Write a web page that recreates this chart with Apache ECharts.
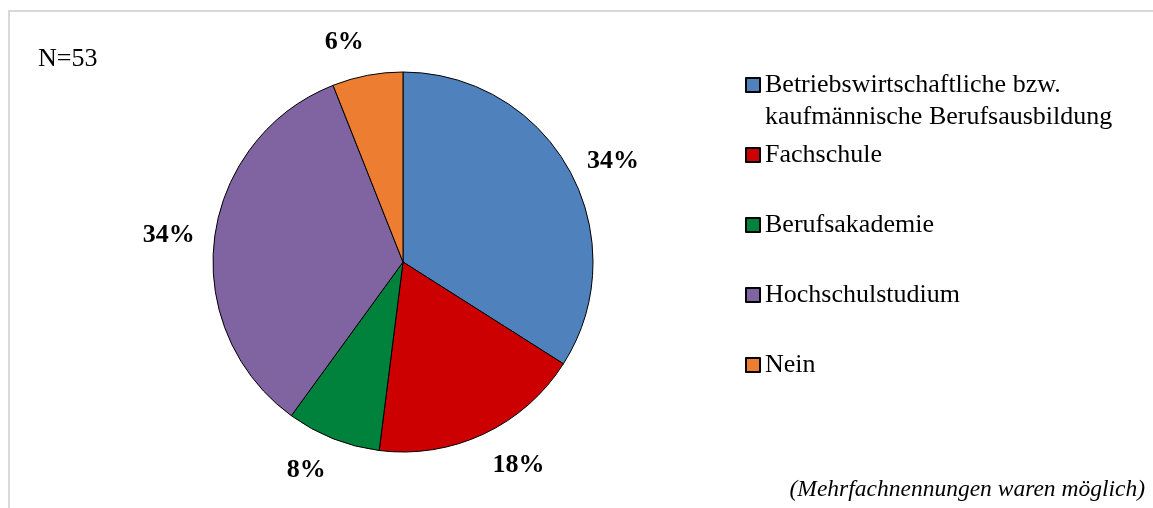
<!DOCTYPE html>
<html>
<head>
<meta charset="utf-8">
<script src="https://cdn.jsdelivr.net/npm/echarts@6/dist/echarts.min.js"></script>
<style>
  html, body { margin: 0; padding: 0; background: #fff; }
  #chart { width: 1153px; height: 508px; }
</style>
</head>
<body>
<div id="chart"></div>
<script>
// Anteile in Prozent (N=53)
const categories = [
  'Betriebswirtschaftliche bzw.\nkaufmännische Berufsausbildung',
  'Fachschule',
  'Berufsakademie',
  'Hochschulstudium',
  'Nein'
];
const values = [34, 18, 8, 34, 6];
const colors = ['#4F81BD', '#CC0000', '#00823D', '#8064A2', '#ED7D31'];

const font = 'Liberation Serif';
// Mitte der Legendensymbole (y) pro Eintrag
const legendCenters = [85, 155, 225, 295, 365];

// Richtung der Segmentmitte (Start oben, im Uhrzeigersinn) -> Ausrichtung wie "außerhalb Ende"
const total = values.reduce(function (a, b) { return a + b; }, 0);
let cum = 0;
const labelDirs = values.map(function (v) {
  const mid = (cum + v / 2) / total * 2 * Math.PI;
  cum += v;
  return { dx: Math.sin(mid), dy: -Math.cos(mid) };
});

const legends = categories.map(function (name, i) {
  const twoLines = name.indexOf('\n') >= 0;
  const lh = twoLines ? 32 : 30;
  return {
    data: [name],
    orient: 'vertical',
    left: 745,
    top: twoLines ? legendCenters[i] - lh * 1.5 : legendCenters[i] - lh / 2,
    padding: 0,
    icon: 'rect',
    itemWidth: 14,
    itemHeight: 14,
    selectedMode: false,
    // leere erste Zeile, damit das Symbol auf Höhe der ersten Textzeile steht
    formatter: function (n) { return twoLines ? ' \n' + n : n; },
    textStyle: {
      fontFamily: font,
      fontSize: 26,
      color: '#000',
      lineHeight: lh
    }
  };
});

const option = {
  animation: false,
  color: colors,
  title: [
    {
      text: 'N=53',
      left: 38,
      top: 46,
      padding: 0,
      textStyle: { fontFamily: font, fontSize: 26, fontWeight: 'normal', color: '#000' }
    },
    {
      text: '(Mehrfachnennungen waren möglich)',
      right: 8,
      top: 478,
      padding: 0,
      textStyle: { fontFamily: font, fontSize: 23.5, fontStyle: 'italic', fontWeight: 'normal', color: '#000' }
    }
  ],
  legend: legends,
  graphic: [{
    type: 'rect',
    shape: { x: 9, y: 11, width: 1300, height: 700 },
    style: { fill: 'none', stroke: '#d9d9d9', lineWidth: 2 },
    silent: true
  }],
  series: [{
    type: 'pie',
    center: [403, 262],
    radius: 190,
    startAngle: 90,
    clockwise: true,
    itemStyle: { borderColor: '#000', borderWidth: 1 },
    label: {
      show: true,
      position: 'outside',
      formatter: '{c}%',
      fontFamily: font,
      fontSize: 26,
      fontWeight: 'bold',
      color: '#000',
      distanceToLabelLine: 0
    },
    labelLine: { show: false, length: 20, length2: 0 },
    labelLayout: function (params) {
      const d = labelDirs[params.dataIndex];
      let v = 'middle';
      if (d.dy > 0.7) v = 'top';
      else if (d.dy < -0.7) v = 'bottom';
      return {
        align: d.dx >= 0 ? 'left' : 'right',
        verticalAlign: v
      };
    },
    emphasis: { disabled: true },
    data: categories.map(function (name, i) {
      return { name: name, value: values[i] };
    })
  }]
};

const myChart = echarts.init(document.getElementById('chart'));
myChart.setOption(option);
</script>
</body>
</html>
